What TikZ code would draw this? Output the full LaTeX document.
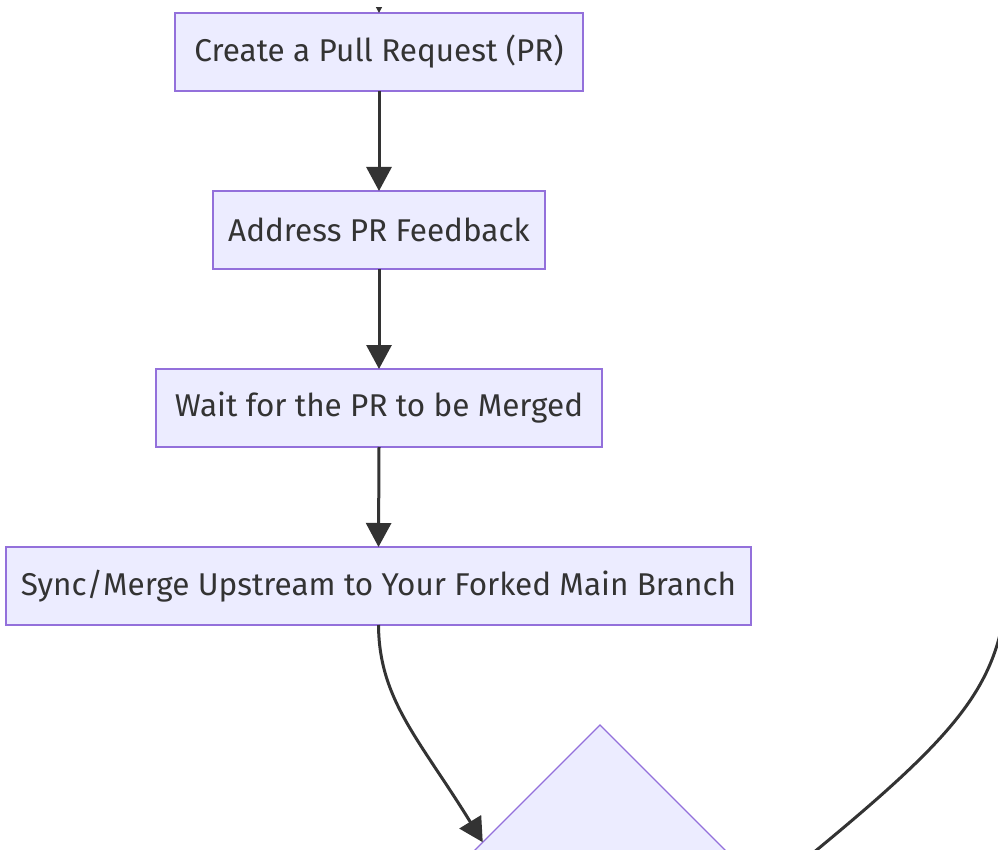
\documentclass[tikz,border=0pt]{standalone}
\usepackage{fontspec}
\setmainfont{Fira Sans}
\usetikzlibrary{shapes.geometric,arrows.meta,calc}
\definecolor{boxfill}{HTML}{ECECFF}
\definecolor{boxline}{HTML}{9370DB}
\definecolor{ink}{HTML}{333333}
\tikzset{
  stepbox/.style={draw=boxline, fill=boxfill, line width=1.3pt, text=ink, inner sep=0pt, outer sep=0pt, minimum height=78pt, font=\fontsize{31.5}{36}\selectfont},
  decision/.style={draw=boxline, fill=boxfill, line width=1.3pt, diamond, aspect=1, inner sep=0pt, outer sep=0pt, minimum width=350pt, minimum height=350pt},
  flow/.style={draw=ink, line width=3pt, -{Triangle[length=24pt,width=25pt]}},
  plainflow/.style={draw=ink, line width=3pt}
}
\begin{document}
\begin{tikzpicture}[x=1pt,y=-1pt]
\useasboundingbox (0,0) rectangle (998,850);
\clip (0,0) rectangle (998,850);
\node[stepbox, minimum width=408pt] (c) at (379,52) {Create a Pull Request (PR)};
\node[stepbox, minimum width=332pt] (a) at (379,230) {Address PR Feedback};
\node[stepbox, minimum width=446pt] (w) at (379,408) {Wait for the PR to be Merged};
\node[stepbox, minimum width=745pt] (s) at (378.5,586) {Sync/Merge Upstream to Your Forked Main Branch};
\node[decision] (d) at (600,900) {};
\coordinate (top) at (379,-40);
\coordinate (ra) at (1004,615);
\coordinate (rb) at (780,880);
\begin{scope}
\clip (0,8) rectangle (998,850);
\draw[flow] (top) -- (c.north);
\end{scope}
\draw[flow] (c.south) -- (a.north);
\draw[flow] (a.south) -- (w.north);
\draw[flow] (w.south) -- (s.north);
\draw[flow] (s.south) .. controls (379,700) and (420,740) .. ($(d.north)!0.67!(d.west)$);
\draw[plainflow] (ra) .. controls (990,700) and (940,750) .. (rb);
\end{tikzpicture}
\end{document}
